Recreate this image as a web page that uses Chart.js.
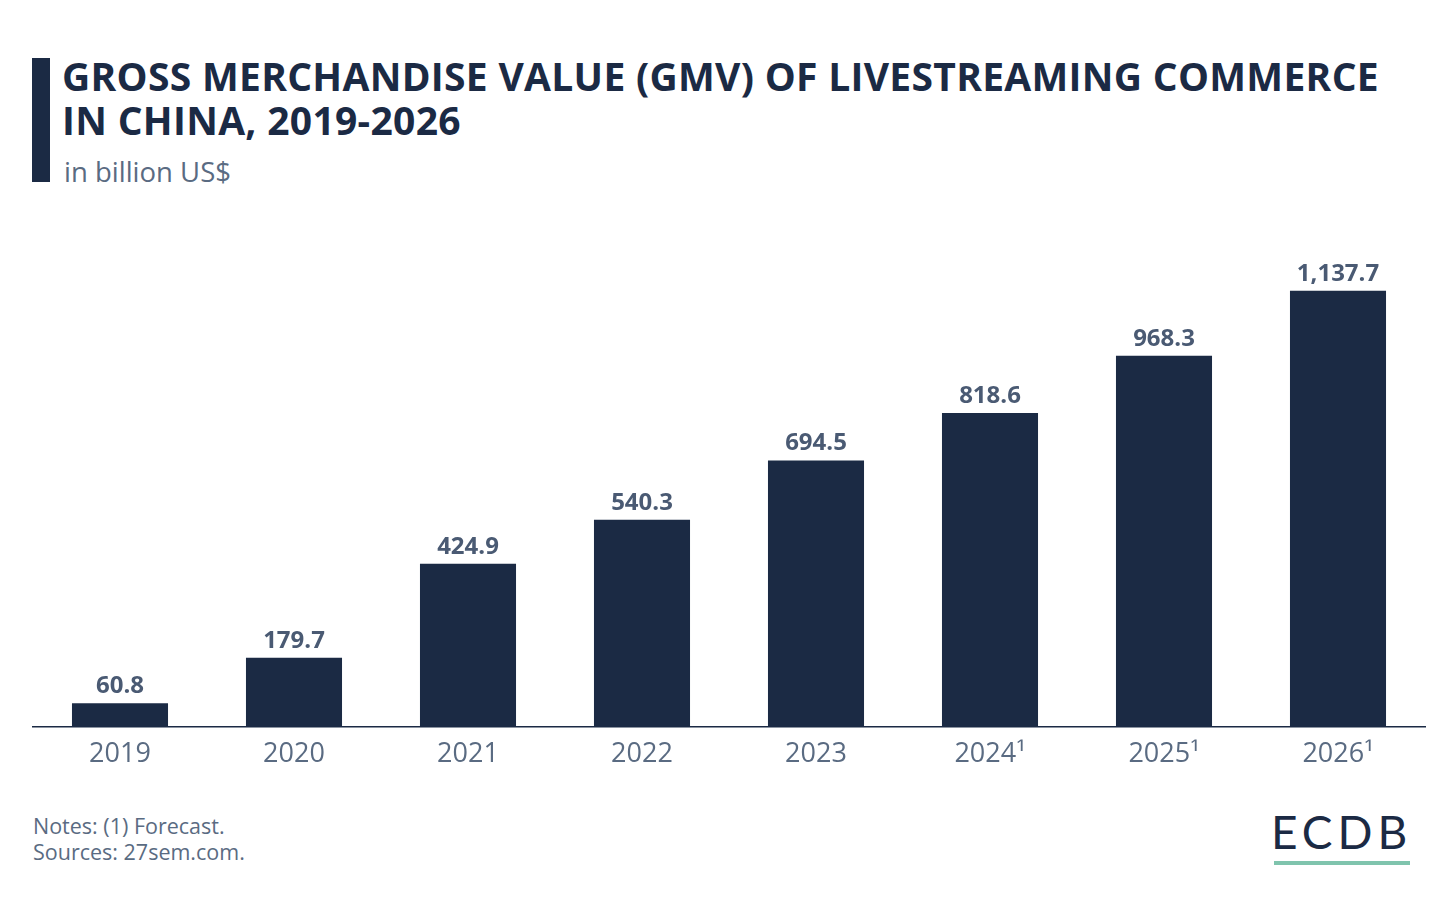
<!DOCTYPE html>
<html>
<head>
<meta charset="utf-8">
<script src="https://cdn.jsdelivr.net/npm/chart.js@4"></script>
<style>
  html, body { margin: 0; padding: 0; background: #fff; }
  body { width: 1456px; height: 914px; position: relative; overflow: hidden; font-family: "Open Sans", sans-serif; }
  .bar { position: absolute; left: 32px; top: 58px; width: 18px; height: 124px; background: #1b2a44; }
  .title { position: absolute; left: 62px; top: 54px; font-size: 39px; font-weight: 700; color: #1b2a44; line-height: 44px; letter-spacing: 0.3px; }
  .sub { position: absolute; left: 64px; top: 153px; font-size: 27.5px; color: #5a6b82; }
  .notes { position: absolute; left: 33px; top: 813px; font-size: 21.5px; line-height: 26px; color: #5a6b82; }
  .logo { position: absolute; left: 1271px; top: 806px; font-size: 46px; color: #1b2a44; font-family: "Lato", sans-serif; font-weight: 400; letter-spacing: 5px; line-height: 52px; }
  .logo-line { position: absolute; left: 1274px; top: 861px; width: 136px; height: 4px; background: #7fc4ad; }
  #wrap { position: absolute; left: 0; top: 227px; width: 1456px; height: 548px; }
</style>
</head>
<body>
<div class="bar"></div>
<div class="title">GROSS MERCHANDISE VALUE (GMV) OF LIVESTREAMING COMMERCE<br>IN CHINA, 2019-2026</div>
<div class="sub">in billion US$</div>
<div id="wrap"><canvas id="chart"></canvas></div>
<div class="notes">Notes: (1) Forecast.<br>Sources: 27sem.com.</div>
<div class="logo">ECDB</div>
<div class="logo-line"></div>
<script>
var years = ["2019", "2020", "2021", "2022", "2023", "2024¹", "2025¹", "2026¹"];
var gmv = [60.8, 179.7, 424.9, 540.3, 694.5, 818.6, 968.3, 1137.7];
var valueLabels = ["60.8", "179.7", "424.9", "540.3", "694.5", "818.6", "968.3", "1,137.7"];

var barLabels = {
    id: 'barLabels',
    afterDatasetsDraw: function(chart) {
        var ctx = chart.ctx;
        var meta = chart.getDatasetMeta(0);
        ctx.save();
        ctx.font = "bold 24px 'Open Sans'";
        ctx.fillStyle = "#4a5a73";
        ctx.textAlign = "center";
        ctx.textBaseline = "middle";
        meta.data.forEach(function(bar, i) {
            ctx.fillText(valueLabels[i], bar.x, bar.y - 17);
        });
        ctx.restore();
    }
};

var ctx = document.getElementById("chart");
new Chart(ctx, {
    type: 'bar',
    data: {
        labels: years,
        datasets: [{
            data: gmv,
            backgroundColor: "#1b2a44",
            barPercentage: 0.552,
            categoryPercentage: 1
        }]
    },
    options: {
        responsive: true,
        maintainAspectRatio: false,
        animation: false,
        layout: { padding: { left: 33, right: 31, top: 40, bottom: 0 } },
        plugins: { legend: { display: false }, tooltip: { enabled: false } },
        scales: {
            x: {
                grid: { display: false },
                border: { display: true, color: "#1b2a44", width: 1.5 },
                ticks: { color: "#5a6b82", font: { family: "'Open Sans'", size: 27 }, padding: 4 }
            },
            y: {
                display: false,
                min: 0,
                max: 1200
            }
        }
    },
    plugins: [barLabels]
});
</script>
</body>
</html>
